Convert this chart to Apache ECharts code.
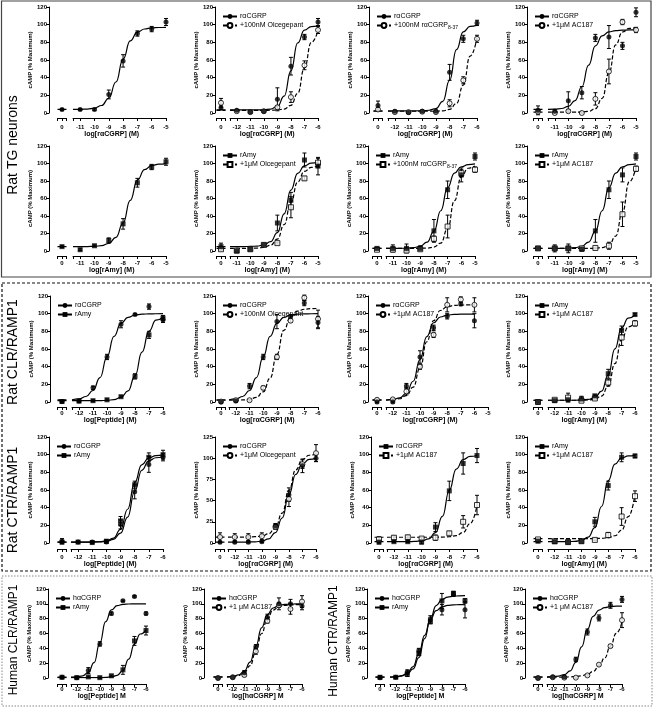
<!DOCTYPE html>
<html><head><meta charset="utf-8">
<script src="https://cdn.jsdelivr.net/npm/echarts@6/dist/echarts.min.js"></script>
<style>html,body{margin:0;padding:0;background:#fff}#c{width:653px;height:711px}</style>
</head><body><div id="c"></div>
<script>
// ---------- DATA ----------
const dosesA = [-11,-10,-9,-8,-7,-6,-5];
const dosesB = [-12,-11,-10,-9,-8,-7,-6];

// control ("0") values: [A, A err, B, B err]
const p1_a=[4,4,21,59,90,95,103], p1_ae=[1,1,5,7,3,3,4], p1_ctl=[4,1];
const p1_ca=[4.0,4.1,4.5,5.5,8.5,16.7,35.1,61.0,81.6,91.5,95.1,96.4,96.8,97.0];

const p2_a=[3,1,2,15.5,53,86,103], p2_ae=[1,1,1,13,10,3,4];
const p2_b=[2,1,2,6.5,18,54,94], p2_be=[1,1,1,2,6,5,4], p2_ctl=[6,2,11.5,5];
const p2_ca=[3.5,3.5,3.5,3.5,3.5,3.7,4.4,7.4,19,47.7,79.3,93.8,97.8,98.7];
const p2_cb=[3,3,3,3,3,3,3.1,3.4,4.5,8.7,22.3,51,79.7,93.3];

const p3_a=[2,0.5,2,2,46,84,102], p3_ae=[1,1,1,1,9,4,3];
const p3_b=[1,1,1.5,1,11,37,84], p3_be=[1,1,1,1,4,4,4], p3_ctl=[8.5,5,4,2];
const p3_ca=[2.5,2.5,2.5,2.5,2.5,2.6,3.1,5.1,13.2,37.1,71.7,91.8,98.0,99.5];
const p3_cb=[2,2,2,2,2,2,2,2,2.5,4.1,10.8,31.5,64.5,85];

const p4_a=[2,14,23,85,86,76,114], p4_ae=[2,10,7,4,13,4,5];
const p4_b=[0,2,0,16,47,103,94], p4_be=[1,1,1,7,14,3,3], p4_ctl=[3,5,1.5,1];
const p4_ca=[4.1,4.4,5.1,7.4,14.1,29.7,54.1,76,87.3,91.8,93.3,93.8,94,94];
const p4_cb=[1,1,1,1,1,1.2,1.9,4.9,16.6,45.4,77.2,91.7,95.8,96.7];

const p5_a=[1.5,6,12,31,78,96,102], p5_ae=[1,1,3,6,5,3,4], p5_ctl=[5,1];
const p5_ca=[5.0,5.0,5.1,5.4,6.1,8.6,15.6,32,57.9,80.9,93,97.6,99.2,99.8];

const p6_a=[0,2,7,32,58,104,97], p6_ae=[1,1,1,9,9,8,10];
const p6_b=[0.5,2,7,9,50,83,101], p6_be=[1,1,1,1,12,2,5], p6_ctl=[5,4,2,1];
const p6_ca=[5,5,5.1,5.2,5.6,6.9,10.7,21.1,42.5,69.6,88.7,97.3,100.4,101.5];
const p6_cb=[3,3,3,3.1,3.4,4.1,6.6,13.6,30.1,55.9,78.9,91,95.6,97.2];

const p7_a=[3,3,3,23,70,87,108], p7_ae=[4,5,3,13,10,8,4];
const p7_b=[1.5,0.5,2,14,28,89,93], p7_be=[1,1,1,3,13,4,3], p7_ctl=[3,1,1.5,1];
const p7_ca=[3,3,3.1,3.2,3.8,5.4,10.2,22.5,46,72.4,89.1,96.3,98.8,99.6];
const p7_cb=[3,3,3,3,3,3.1,3.3,4.4,9,25.3,57.5,84.5,94.6,97.2];

const p8_a=[3,3,2,23,70,87,108], p8_ae=[4,5,2,13,10,8,4];
const p8_b=[3,3,3,3.5,6,42,94], p8_be=[1,1,1,1,4,14,3], p8_ctl=[3,1,3,1];
const p8_ca=[3,3,3.1,3.2,3.8,5.4,10.2,22.5,46,72.4,89.1,96.3,98.8,99.6];
const p8_cb=[3,3,3,3,3,3,3,3.2,3.8,6.5,17.1,44.2,79,95.8];

const p9_a=[1,16,51,88,99,108,93], p9_ae=[1,2,3,4,1,3,3];
const p9_b=[1,1.5,2.5,6,29,76,95], p9_be=[1,1,1,1,3,4,3], p9_ctl=[0.5,1,0.5,1];
const p9_ca=[2.5,3.5,6.2,13,27.7,51,74.3,89,95.8,98.5,99.4,99.8,99.9,100];
const p9_cb=[1.5,1.5,1.5,1.5,1.5,1.9,2.7,5.2,12.5,29.6,56.4,80.2,92.7,96];

const p10_a=[1,18,51,91,97,112,90], p10_ae=[1,3,3,8,2,3,7];
const p10_b=[2,2,16,51,92,118,94], p10_be=[1,1,2,3,2,3,10], p10_ctl=[0,1,0.5,1];
const p10_ca=[2.5,3.5,6.2,13,27.7,51,74.3,89,95.8,98.5,99.4,99.8,99.9,100];
const p10_cb=[2.0,2.1,2.3,3.0,5.2,11.5,27,54,81,96.5,102.8,105,105.7,105.9];

const p11_a=[0,18,51,84,97,111,92], p11_ae=[1,3,7,3,3,2,8];
const p11_b=[3,12,40,76,110,116,110], p11_be=[1,4,3,3,8,3,8], p11_ctl=[0,1,2.5,1];
const p11_ca=[2.3,2.9,4.6,10,23.5,48,74,89.7,96.2,98.4,99.1,99.4,99.5,99.5];
const p11_cb=[2.2,2.5,3.7,7.2,16.8,38.1,68.2,92.1,103.6,107.8,109.3,109.7,109.9,110];

const p12_a=[1.5,2.5,3.5,7,32,81,99], p12_ae=[1,1,3,1,5,5,1];
const p12_b=[2.5,5,1.5,4,22,73,89], p12_be=[1,5,1,1,4,9,3], p12_ctl=[0,1,0,1];
const p12_ca=[2,2,2,2,2,2.3,2.9,5.1,12.2,30.6,60.2,84,94.9,98.5];
const p12_cb=[2,2,2,2,2,2.1,2.3,3.2,6.6,18,43.5,71,85,89.4];

const p13_a=[1,1,1,21,58,89,97], p13_ae=[1,1,1,5,8,9,4];
const p13_b=[1,0.5,2,25,66,97,100], p13_be=[1,1,2,5,4,5,5], p13_ctl=[2,3,1,1];
const p13_ca=[1,1,1,1.1,1.25,1.9,4.1,11.1,29.3,58.6,82.3,93,96.5,97.6];
const p13_cb=[1,1,1,1,1.4,2.3,5.6,15.4,38.2,68.4,88.5,96.4,99,99.7];

const p14_a=[1,1,1.5,20,57,91,100], p14_ae=[1,1,1,3,8,8,4];
const p14_b=[7,7,8,19,52,93,106], p14_be=[4,4,4,3,9,5,10], p14_ctl=[1,1,7,5];
const p14_ca=[1,1,1.04,1.13,1.4,2.2,4.8,12.2,29.5,56.7,80.9,93.6,98.5,99.8];
const p14_cb=[7,7,7,7.1,7.4,8.2,10.8,18.1,35.2,62.1,86.1,98.7,103.5,104.8];

const p15_a=[1.5,1.5,1,18,59,90,99], p15_ae=[1,1,2,5,11,12,8];
const p15_b=[6,6.5,5,6,11,24,43], p15_be=[2,2,1,3,2,7,11], p15_ctl=[1,2,4,3];
const p15_ca=[1.5,1.5,1.5,1.5,1.75,2.4,4.6,11.7,30.1,59.7,83.6,94.4,98,99.1];
const p15_cb=[6.5,6.5,6.5,6.5,6.5,6.5,6.5,6.56,6.7,7.1,8.3,12,22,42.7];

const p16_a=[1.5,1,2,24,65,97,98.5], p16_ae=[1,2,1,5,5,5,2];
const p16_b=[2,1,2,3.5,9,30,53], p16_be=[1,1,2,1,3,10,6], p16_ctl=[2,1,4,1];
const p16_ca=[1.5,1.5,1.5,1.5,1.9,3,6.6,17.3,41.3,70.7,89.3,96.3,98.6,99.2];
const p16_cb=[5,5,5,5,5,5,5,5.1,5.3,6,8.2,14.6,29.9,55.2];

const p17_a=[0.5,10,46,87,104,110,87], p17_ae=[1,4,3,2,1,1,2];
const p17_b=[0.5,1.5,0.5,3,11,50,64], p17_be=[1,1,1,1,6,6,6], p17_ctl=[1,1,1,1];
const p17_ca=[1.2,1.5,2.9,7.5,20.7,47.3,76,91.8,97.5,99.3,99.8,100,100,100];
const p17_cb=[0.5,0.5,0.5,0.5,0.5,0.5,0.75,1.4,3.6,10.1,25.5,45.8,59.3,64.6];

const p18_a=[1,7,42,82,100,100,97], p18_ae=[1,3,3,4,8,6,5];
const p18_b=[1,4,36,77,98,93,103], p18_be=[1,2,4,3,3,7,8], p18_ctl=[0,1,0,1];
const p18_ca=[1.4,2.1,4.2,9.3,21.4,42.9,67.7,85.4,94.4,97.9,99.2,99.7,99.9,100];
const p18_cb=[1.3,1.8,3.3,7.2,16.7,35.2,60,80.4,91.5,96.2,98,98.6,98.9,99];

const p19_a=[1,8,37,80,92,113,92], p19_ae=[1,3,3,4,7,3,11];
const p19_b=[1,5,33,76,104,114,104], p19_be=[1,3,3,3,10,3,3], p19_ctl=[0.5,1,1,2];
const p19_ca=[1.3,1.7,3.1,6.6,15.4,33,57.5,78.8,90.8,95.9,97.9,98.6,98.9,99];
const p19_cb=[1.2,1.6,2.5,5.3,12.2,27.6,53.1,80,97.5,105.8,109.1,110.3,110.8,111];

const p20_a=[1.5,1.5,25,62,81,98,106], p20_ae=[1,1,3,4,4,4,4];
const p20_b=[1,0.5,0.5,3.5,18,43,78], p20_be=[1,1,1,1,1,2,10], p20_ctl=[0,1,0,1];
const p20_ca=[1.6,1.9,2.6,4.6,9.5,21.2,41.9,65.9,83,91.5,95,96.3,96.8,97];
const p20_cb=[1.03,1.06,1.12,1.24,1.48,1.98,2.98,4.96,8.8,15.8,27.1,42.8,60.3,75.5];

// ---------- LAYOUT ----------
const FONT = '"Liberation Sans", Arial, sans-serif';
const ROWS = [
  {top:7,   bot:113, off:5, lm:6,  ng:13},
  {top:146, bot:251, off:5, lm:4,  ng:9},
  {top:296, bot:402, off:5, lm:3,  ng:8},
  {top:437, bot:543, off:6, lm:5,  ng:11},
  {top:589, bot:678, off:6, lm:2,  ng:8}
];
const CG='log[rαCGRP] (M)', AM='log[rAmy] (M)', PE='log[Peptide] (M)';
const P = [
 {r:0,yx:49,cx:62,L:73,R:166,mn:-11.5,mx:-5,xs:dosesA,a:p1_a,ae:p1_ae,ctl:p1_ctl,ca:p1_ca,cs:-11.5,ma:'circle',xn:CG},
 {r:0,yx:215,cx:221,L:230,R:318,mn:-12.5,mx:-6,xs:dosesB,a:p2_a,ae:p2_ae,b:p2_b,be:p2_be,ctl:p2_ctl,ca:p2_ca,cb:p2_cb,cs:-12.5,ma:'circle',mb:'circle',ob:true,db:true,xn:CG,leg:['rαCGRP','+100nM Olcegepant']},
 {r:0,yx:369,cx:378,L:388,R:477,mn:-12.5,mx:-6,xs:dosesB,a:p3_a,ae:p3_ae,b:p3_b,be:p3_be,ctl:p3_ctl,ca:p3_ca,cb:p3_cb,cs:-12.5,ma:'circle',mb:'circle',ob:true,db:true,xn:CG,leg:['rαCGRP','+100nM rαCGRP{sub|8-37}']},
 {r:0,yx:527,cx:538,L:548,R:636,mn:-11.5,mx:-5,xs:dosesA,a:p4_a,ae:p4_ae,b:p4_b,be:p4_be,ctl:p4_ctl,ca:p4_ca,cb:p4_cb,cs:-11.5,ma:'circle',mb:'circle',ob:true,db:true,xn:CG,leg:['rαCGRP','+1μM AC187']},
 {r:1,yx:49,cx:62,L:73,R:166,mn:-11.5,mx:-5,xs:dosesA,a:p5_a,ae:p5_ae,ctl:p5_ctl,ca:p5_ca,cs:-11.5,ma:'rect',xn:AM},
 {r:1,yx:215,cx:221,L:230,R:318,mn:-11.5,mx:-5,xs:dosesA,a:p6_a,ae:p6_ae,b:p6_b,be:p6_be,ctl:p6_ctl,ca:p6_ca,cb:p6_cb,cs:-11.5,ma:'rect',mb:'rect',ob:true,db:true,xn:AM,leg:['rAmy','+1μM Olcegepant']},
 {r:1,yx:368,cx:377,L:386,R:475,mn:-11.5,mx:-5,xs:dosesA,a:p7_a,ae:p7_ae,b:p7_b,be:p7_be,ctl:p7_ctl,ca:p7_ca,cb:p7_cb,cs:-11.5,ma:'rect',mb:'rect',ob:true,db:true,xn:AM,leg:['rAmy','+100nM rαCGRP{sub|8-37}']},
 {r:1,yx:527,cx:538,L:548,R:636,mn:-11.5,mx:-5,xs:dosesA,a:p8_a,ae:p8_ae,b:p8_b,be:p8_be,ctl:p8_ctl,ca:p8_ca,cb:p8_cb,cs:-11.5,ma:'rect',mb:'rect',ob:true,db:true,xn:AM,leg:['rAmy','+1μM AC187']},
 {r:2,yx:50,cx:62,L:72,R:163,mn:-12.5,mx:-6,xs:dosesB,a:p9_a,ae:p9_ae,b:p9_b,be:p9_be,ctl:p9_ctl,ca:p9_ca,cb:p9_cb,cs:-12.5,ma:'circle',mb:'rect',ob:false,db:false,xn:PE,leg:['rαCGRP','rAmy']},
 {r:2,yx:215,cx:221,L:229,R:318,mn:-12.5,mx:-6,xs:dosesB,a:p10_a,ae:p10_ae,b:p10_b,be:p10_be,ctl:p10_ctl,ca:p10_ca,cb:p10_cb,cs:-12.5,ma:'circle',mb:'circle',ob:true,db:true,xn:CG,leg:['rαCGRP','+100nM Olcegepant']},
 {r:2,yx:368,cx:377,L:386,R:488,mn:-12.5,mx:-5,xs:dosesB,a:p11_a,ae:p11_ae,b:p11_b,be:p11_be,ctl:p11_ctl,ca:p11_ca,cb:p11_cb,cs:-12.5,ma:'circle',mb:'circle',ob:true,db:true,xn:CG,leg:['rαCGRP','+1μM AC187']},
 {r:2,yx:527,cx:538,L:548,R:635,mn:-12.5,mx:-6,xs:dosesB,a:p12_a,ae:p12_ae,b:p12_b,be:p12_be,ctl:p12_ctl,ca:p12_ca,cb:p12_cb,cs:-12.5,ma:'rect',mb:'rect',ob:true,db:true,xn:AM,leg:['rAmy','+1μM AC187']},
 {r:3,yx:49,cx:62,L:71,R:163,mn:-12.5,mx:-6,xs:dosesB,a:p13_a,ae:p13_ae,b:p13_b,be:p13_be,ctl:p13_ctl,ca:p13_ca,cb:p13_cb,cs:-12.5,ma:'circle',mb:'rect',ob:false,db:false,xn:PE,leg:['rαCGRP','rAmy']},
 {r:3,yx:215,cx:220,L:228,R:316,mn:-12.5,mx:-6,ymax:125,yint:25,xs:dosesB,a:p14_a,ae:p14_ae,b:p14_b,be:p14_be,ctl:p14_ctl,ca:p14_ca,cb:p14_cb,cs:-12.5,ma:'circle',mb:'circle',ob:true,db:true,xn:CG,leg:['rαCGRP','+1μM Olcegepant']},
 {r:3,yx:371,cx:379,L:387,R:477,mn:-12.5,mx:-6,xs:dosesB,a:p15_a,ae:p15_ae,b:p15_b,be:p15_be,ctl:p15_ctl,ca:p15_ca,cb:p15_cb,cs:-12.5,ma:'rect',mb:'rect',ob:true,db:true,xn:CG,leg:['rαCGRP','+1μM AC187']},
 {r:3,yx:527,cx:538,L:548,R:635,mn:-12.5,mx:-6,xs:dosesB,a:p16_a,ae:p16_ae,b:p16_b,be:p16_be,ctl:p16_ctl,ca:p16_ca,cb:p16_cb,cs:-12.5,ma:'rect',mb:'rect',ob:true,db:true,xn:AM,leg:['rAmy','+1μM AC187']},
 {r:4,yx:48,cx:62,L:71,R:146,mn:-12.5,mx:-6,xs:dosesB,a:p17_a,ae:p17_ae,b:p17_b,be:p17_be,ctl:p17_ctl,ca:p17_ca,cb:p17_cb,cs:-12.5,ma:'circle',mb:'rect',ob:false,db:false,xn:'log[Peptide] M',leg:['hαCGRP','rAmy']},
 {r:4,yx:204,cx:218,L:227,R:302,mn:-12.5,mx:-6,xs:dosesB,a:p18_a,ae:p18_ae,b:p18_b,be:p18_be,ctl:p18_ctl,ca:p18_ca,cb:p18_cb,cs:-12.5,ma:'circle',mb:'circle',ob:true,db:true,xn:'log[hαCGRP] M',leg:['hαCGRP','+1 μM AC187']},
 {r:4,yx:367,cx:380,L:390,R:465,mn:-12.5,mx:-6,xs:dosesB,a:p19_a,ae:p19_ae,b:p19_b,be:p19_be,ctl:p19_ctl,ca:p19_ca,cb:p19_cb,cs:-12.5,ma:'circle',mb:'rect',ob:false,db:false,xn:'log[Peptide] M',leg:['hαCGRP','rAmy']},
 {r:4,yx:525,cx:538,L:547,R:622,mn:-12.5,mx:-6,xs:dosesB,a:p20_a,ae:p20_ae,b:p20_b,be:p20_be,ctl:p20_ctl,ca:p20_ca,cb:p20_cb,cs:-12.5,ma:'circle',mb:'circle',ob:true,db:true,xn:'log[hαCGRP] M',leg:['hαCGRP','+1 μM AC187']}
];

function errRender(params, api){
  const x = api.value(0), lo = api.value(1), hi = api.value(2);
  const p1 = api.coord([x, hi]), p2 = api.coord([x, lo]);
  const w = 2, st = {stroke:'#000', lineWidth:1};
  return {type:'group', children:[
    {type:'line', shape:{x1:p1[0],y1:p1[1],x2:p2[0],y2:p2[1]}, style:st},
    {type:'line', shape:{x1:p1[0]-w,y1:p1[1],x2:p1[0]+w,y2:p1[1]}, style:st},
    {type:'line', shape:{x1:p2[0]-w,y1:p2[1],x2:p2[0]+w,y2:p2[1]}, style:st}
  ]};
}
const mkStyle = open => open ? {color:'#fff', borderColor:'#000', borderWidth:1} : {color:'#000', borderColor:'#000', borderWidth:0};
const lblStyle = {fontSize:6, fontWeight:'bold', color:'#000', fontFamily:FONT};
const lineAx = {show:true, onZero:false, lineStyle:{color:'#000', width:1}};

const grids=[], xAxes=[], yAxes=[], series=[], legends=[], legLabels={};
P.forEach((p,i)=>{
  const row = ROWS[p.r], h = row.bot-row.top;
  const ymax = p.ymax||120, yint = p.yint||20;
  const gT = grids.length, gM = gT+1;
  grids.push({left:p.cx-4.5, width:9, top:row.top, height:h});
  grids.push({left:p.L, width:p.R-p.L, top:row.top, height:h});
  xAxes.push({type:'value', gridIndex:gT, min:-1, max:1, offset:row.off, axisLine:lineAx,
    axisTick:{show:true, length:3, customValues:[-1,0,1], lineStyle:{color:'#000'}},
    axisLabel:Object.assign({customValues:[0], margin:row.lm}, lblStyle), splitLine:{show:false}});
  const ints=[]; for(let v=Math.ceil(p.mn); v<=p.mx; v++) ints.push(v);
  const shift = (p.L-(p.cx-4.5))/2;
  xAxes.push({type:'value', gridIndex:gM, min:p.mn, max:p.mx, offset:row.off, axisLine:lineAx,
    axisTick:{show:true, length:3, customValues:[p.mn].concat(ints), lineStyle:{color:'#000'}},
    axisLabel:Object.assign({customValues:ints, margin:row.lm}, lblStyle), splitLine:{show:false},
    name:p.xn, nameLocation:'middle', nameGap:row.ng,
    nameTextStyle:{fontSize:7, fontWeight:'bold', color:'#000', fontFamily:FONT, padding:[0,2*shift,0,0]}});
  yAxes.push({type:'value', gridIndex:gT, min:0, max:ymax, interval:yint, position:'left',
    offset:Math.max(0,(p.cx-4.5)-p.yx), axisLine:lineAx,
    axisTick:{show:true, length:3, lineStyle:{color:'#000'}},
    axisLabel:Object.assign({margin:2}, lblStyle), splitLine:{show:false},
    name:'cAMP (% Maximum)', nameLocation:'middle', nameGap:12, nameRotate:90,
    nameTextStyle:{fontSize:6, fontWeight:'bold', color:'#000', fontFamily:FONT}});
  yAxes.push({type:'value', gridIndex:gM, min:0, max:ymax, interval:yint, show:false});

  const addSet = (key, vals, errs, curve, ms, open, dashed, ctlV, ctlE) => {
    const nm = 'p'+i+key;
    const lt = dashed ? [4,2] : 'solid';
    const cpts = curve.map((y,k)=>[p.cs+k*0.5, y]);
    series.push({type:'line', name:nm, xAxisIndex:gM, yAxisIndex:gM, data:cpts, smooth:true, smoothMonotone:'x',
      showSymbol:false, symbol:ms, symbolSize:5, itemStyle:mkStyle(open),
      lineStyle:{color:'#000', width:1.2, type:lt}, silent:true, z:2});
    series.push({type:'line', xAxisIndex:gT, yAxisIndex:gT, data:[[-1,curve[0]],[1,curve[0]]],
      showSymbol:false, symbol:'none', lineStyle:{color:'#000', width:1.2, type:lt}, silent:true, z:2});
    series.push({type:'custom', xAxisIndex:gM, yAxisIndex:gM, renderItem:errRender, encode:{x:0,y:[1,2]},
      data:vals.map((v,k)=>[p.xs[k], v-errs[k], v+errs[k]]), silent:true, z:3, clip:false});
    series.push({type:'custom', xAxisIndex:gT, yAxisIndex:gT, renderItem:errRender, encode:{x:0,y:[1,2]},
      data:[[0, ctlV-ctlE, ctlV+ctlE]], silent:true, z:3, clip:false});
    series.push({type:'scatter', xAxisIndex:gM, yAxisIndex:gM, symbol:ms, symbolSize:5, itemStyle:mkStyle(open),
      data:vals.map((v,k)=>[p.xs[k], v]), silent:true, z:4});
    series.push({type:'scatter', xAxisIndex:gT, yAxisIndex:gT, symbol:ms, symbolSize:5, itemStyle:mkStyle(open),
      data:[[0, ctlV]], silent:true, z:4});
    return nm;
  };
  const names = [];
  if (p.b) names.push(addSet('b', p.b, p.be, p.cb, p.mb, p.ob, p.db, p.ctl[2], p.ctl[3]));
  names.unshift(addSet('a', p.a, p.ae, p.ca, p.ma, false, false, p.ctl[0], p.ctl[1]));
  if (p.leg){
    legLabels[names[0]] = p.leg[0]; legLabels[names[1]] = p.leg[1];
    legends.push({orient:'vertical', left:p.yx+2, top:row.top+1, itemWidth:14, itemHeight:6, itemGap:2,
      selectedMode:false, data:names, formatter:n=>legLabels[n],
      textStyle:{fontSize:7, color:'#000', fontFamily:FONT, padding:[0,0,0,-2],
        rich:{sub:{fontSize:5, color:'#000', fontFamily:FONT, padding:[4,0,0,0]}}}});
  }
});

const secLabel = (txt, x, y, fs) => ({type:'text', x:x, y:y, rotation:Math.PI/2,
  style:{text:txt, font:fs+'px "Liberation Sans", Arial, sans-serif', fill:'#000', align:'center', verticalAlign:'middle'}});
const graphic = [
  {type:'rect', shape:{x:1.5, y:1, width:649.5, height:276}, style:{fill:null, stroke:'#444', lineWidth:1.2}},
  {type:'rect', shape:{x:2, y:283, width:649, height:288}, style:{fill:null, stroke:'#111', lineWidth:1.2, lineDash:[3,2]}},
  {type:'rect', shape:{x:2, y:576, width:650, height:130}, style:{fill:null, stroke:'#888', lineWidth:1, lineDash:[1.5,1.5]}},
  secLabel('Rat TG neurons', 13, 145, 14),
  secLabel('Rat CLR/RAMP1', 13, 352, 14),
  secLabel('Rat CTR/RAMP1', 13, 500, 14),
  secLabel('Human CLR/RAMP1', 14, 640, 12),
  secLabel('Human CTR/RAMP1', 334, 641, 12)
];

const chart = echarts.init(document.getElementById('c'), null, {renderer:'canvas'});
chart.setOption({animation:false, backgroundColor:'#fff', grid:grids, xAxis:xAxes, yAxis:yAxes,
  series:series, legend:legends, graphic:graphic});
</script></body></html>
